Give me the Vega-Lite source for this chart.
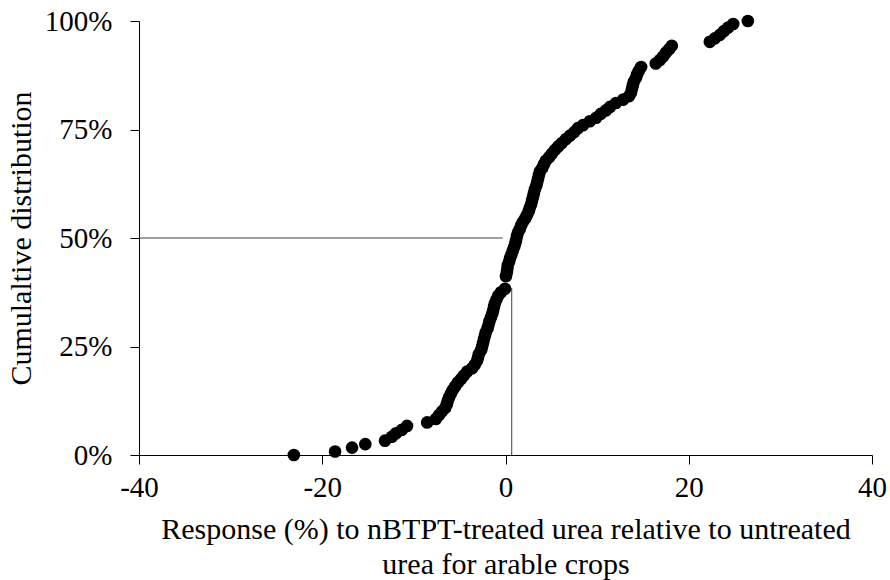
{
  "$schema": "https://vega.github.io/schema/vega-lite/v6.json",
  "width": 733,
  "height": 434,
  "autosize": {"type": "none"},
  "padding": {"left": 139, "top": 21, "right": 18, "bottom": 125},
  "background": "white",
  "config": {
    "view": {"stroke": null},
    "font": "Liberation Serif",
    "axis": {
      "labelFont": "Liberation Serif",
      "titleFont": "Liberation Serif",
      "labelColor": "black",
      "titleColor": "black",
      "domainColor": "black",
      "tickColor": "black",
      "grid": false,
      "titleFontWeight": "normal"
    }
  },
  "datasets": {
    "pts": [
      {"x": -23.1, "y": 0}, {"x": -18.6, "y": 0.008}, {"x": -16.75, "y": 0.017}, {"x": -15.3, "y": 0.025},
      {"x": -13.15, "y": 0.033}, {"x": -12.4, "y": 0.042}, {"x": -11.95, "y": 0.05}, {"x": -11.3, "y": 0.058},
      {"x": -10.75, "y": 0.067}, {"x": -8.55, "y": 0.075}, {"x": -7.6, "y": 0.083}, {"x": -7.25, "y": 0.092},
      {"x": -6.95, "y": 0.1}, {"x": -6.6, "y": 0.108}, {"x": -6.4, "y": 0.117}, {"x": -6.3, "y": 0.125},
      {"x": -6.15, "y": 0.133}, {"x": -5.95, "y": 0.142}, {"x": -5.75, "y": 0.15}, {"x": -5.5, "y": 0.158},
      {"x": -5.2, "y": 0.167}, {"x": -4.85, "y": 0.175}, {"x": -4.55, "y": 0.183}, {"x": -4.2, "y": 0.192},
      {"x": -3.65, "y": 0.2}, {"x": -3.35, "y": 0.208}, {"x": -3.1, "y": 0.217}, {"x": -3.0, "y": 0.225},
      {"x": -2.9, "y": 0.233}, {"x": -2.65, "y": 0.242}, {"x": -2.55, "y": 0.25}, {"x": -2.45, "y": 0.258},
      {"x": -2.35, "y": 0.267}, {"x": -2.25, "y": 0.275}, {"x": -2.15, "y": 0.283}, {"x": -1.95, "y": 0.292},
      {"x": -1.85, "y": 0.3}, {"x": -1.75, "y": 0.308}, {"x": -1.6, "y": 0.317}, {"x": -1.45, "y": 0.325},
      {"x": -1.35, "y": 0.333}, {"x": -1.25, "y": 0.342}, {"x": -1.15, "y": 0.35}, {"x": -1.0, "y": 0.358},
      {"x": -0.8, "y": 0.367}, {"x": -0.5, "y": 0.375}, {"x": -0.05, "y": 0.383},
      {"x": 0.05, "y": 0.412}, {"x": 0.15, "y": 0.421}, {"x": 0.2, "y": 0.429}, {"x": 0.25, "y": 0.437},
      {"x": 0.4, "y": 0.446}, {"x": 0.5, "y": 0.454}, {"x": 0.65, "y": 0.462}, {"x": 0.8, "y": 0.471},
      {"x": 0.95, "y": 0.479}, {"x": 1.05, "y": 0.487}, {"x": 1.15, "y": 0.495}, {"x": 1.25, "y": 0.504},
      {"x": 1.35, "y": 0.512}, {"x": 1.55, "y": 0.52}, {"x": 1.7, "y": 0.529}, {"x": 1.9, "y": 0.537},
      {"x": 2.15, "y": 0.545}, {"x": 2.35, "y": 0.553}, {"x": 2.55, "y": 0.562}, {"x": 2.65, "y": 0.57},
      {"x": 2.8, "y": 0.578}, {"x": 2.9, "y": 0.587}, {"x": 3.0, "y": 0.595}, {"x": 3.1, "y": 0.603},
      {"x": 3.2, "y": 0.612}, {"x": 3.35, "y": 0.62}, {"x": 3.45, "y": 0.628}, {"x": 3.55, "y": 0.636},
      {"x": 3.65, "y": 0.645}, {"x": 3.75, "y": 0.653}, {"x": 4.0, "y": 0.661}, {"x": 4.2, "y": 0.67},
      {"x": 4.4, "y": 0.678}, {"x": 4.75, "y": 0.686}, {"x": 5.05, "y": 0.694}, {"x": 5.4, "y": 0.703},
      {"x": 5.75, "y": 0.711}, {"x": 6.15, "y": 0.719}, {"x": 6.6, "y": 0.728}, {"x": 7.05, "y": 0.736},
      {"x": 7.5, "y": 0.744}, {"x": 7.9, "y": 0.753}, {"x": 8.45, "y": 0.76}, {"x": 9.2, "y": 0.769},
      {"x": 9.9, "y": 0.777}, {"x": 10.4, "y": 0.786}, {"x": 10.95, "y": 0.794}, {"x": 11.4, "y": 0.802},
      {"x": 12.05, "y": 0.811}, {"x": 12.85, "y": 0.819}, {"x": 13.5, "y": 0.827}, {"x": 13.7, "y": 0.835},
      {"x": 13.8, "y": 0.844}, {"x": 13.9, "y": 0.852}, {"x": 14.0, "y": 0.86}, {"x": 14.25, "y": 0.869},
      {"x": 14.35, "y": 0.877}, {"x": 14.55, "y": 0.885}, {"x": 14.8, "y": 0.894}, {"x": 16.4, "y": 0.902},
      {"x": 16.85, "y": 0.91}, {"x": 17.2, "y": 0.918}, {"x": 17.5, "y": 0.927}, {"x": 17.85, "y": 0.935},
      {"x": 18.15, "y": 0.943}, {"x": 22.3, "y": 0.952}, {"x": 22.85, "y": 0.96}, {"x": 23.4, "y": 0.968},
      {"x": 23.85, "y": 0.977}, {"x": 24.3, "y": 0.985}, {"x": 24.85, "y": 0.993}, {"x": 26.45, "y": 1.0}
    ],
    "guides": [
      {"x": -40, "x2": -0.3, "y": 0.5, "y2": 0.5},
      {"x": 0.68, "x2": 0.68, "y": 0, "y2": 0.385}
    ]
  },
  "layer": [
    {
      "data": {"name": "guides"},
      "mark": {"type": "rule", "color": "#404040", "strokeWidth": 1},
      "encoding": {
        "x": {"field": "x", "type": "quantitative", "scale": {"domain": [-40, 40]}},
        "x2": {"field": "x2"},
        "y": {"field": "y", "type": "quantitative", "scale": {"domain": [0, 1]}},
        "y2": {"field": "y2"}
      }
    },
    {
      "data": {"name": "pts"},
      "mark": {"type": "circle", "color": "black", "opacity": 1, "size": 160},
      "encoding": {
        "x": {
          "field": "x", "type": "quantitative",
          "scale": {"domain": [-40, 40], "nice": false, "zero": false},
          "axis": {
            "values": [-40, -20, 0, 20, 40],
            "labelExpr": "datum.value + ''",
            "labelFontSize": 29,
            "tickSize": 9,
            "labelPadding": 9,
            "labelDx": -8,
            "labelFlush": false,
            "title": ["Response (%) to nBTPT-treated urea relative to untreated", "urea for arable crops"],
            "titleFontSize": 30,
            "titleLineHeight": 35,
            "titlePadding": 12
          }
        },
        "y": {
          "field": "y", "type": "quantitative",
          "scale": {"domain": [0, 1], "nice": false},
          "axis": {
            "values": [0, 0.25, 0.5, 0.75, 1],
            "format": ".0%",
            "labelFontSize": 29,
            "tickSize": 9,
            "labelPadding": 18,
            "labelFlush": false,
            "title": "Cumulaltive distribution",
            "titleFontSize": 30,
            "titlePadding": 8
          }
        }
      }
    }
  ]
}
